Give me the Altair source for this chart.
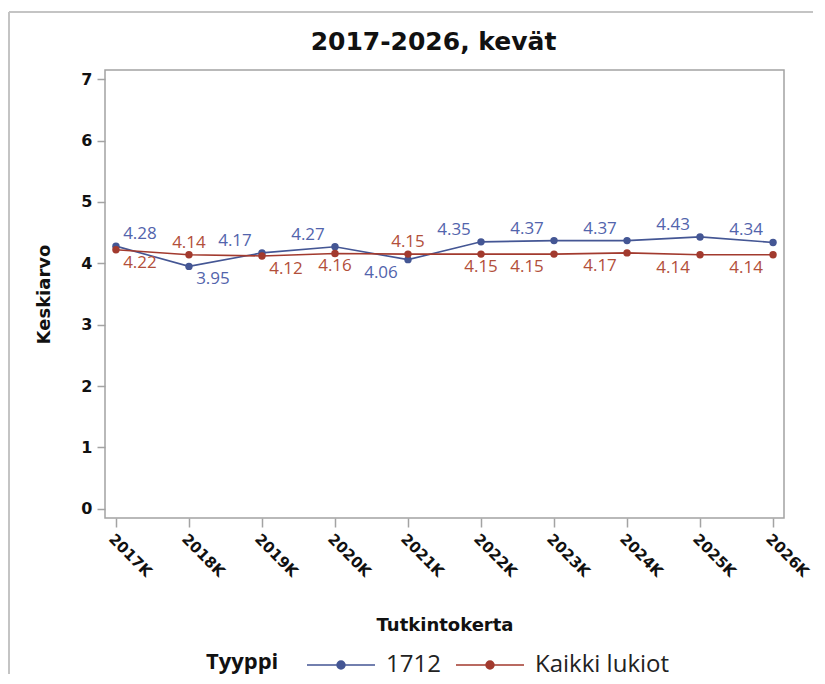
import altair as alt
import pandas as pd

# ---------------- data ----------------
years = ["2017K", "2018K", "2019K", "2020K", "2021K",
         "2022K", "2023K", "2024K", "2025K", "2026K"]
series_names = ["1712", "Kaikki lukiot"]
values_1712 = [4.28, 3.95, 4.17, 4.27, 4.06, 4.35, 4.37, 4.37, 4.43, 4.34]
values_kaikki = [4.22, 4.14, 4.12, 4.16, 4.15, 4.15, 4.15, 4.17, 4.14, 4.14]
y_ticks = [0, 1, 2, 3, 4, 5, 6, 7]

# label placement (style only): r = right of point, c = centred, l = left
side_1712 = ["r", "r", "l", "l", "l", "l", "l", "l", "l", "l"]
side_kaikki = ["r", "c", "r", "c", "c", "c", "l", "l", "l", "l"]

rows = []
for i, yr in enumerate(years):
    a, b = values_1712[i], values_kaikki[i]
    rows.append(dict(year=yr, series=series_names[0], value=a, side=side_1712[i],
                     vpos="above" if a >= b else "below"))
    rows.append(dict(year=yr, series=series_names[1], value=b, side=side_kaikki[i],
                     vpos="above" if b > a else "below"))
df = pd.DataFrame(rows)

# ---------------- style ----------------
BLUE, RED = "#445694", "#A23A2E"
LBLUE, LRED = "#5264AC", "#B24F3A"
GRAY = "#a3a3a3"
BOLD_FONT = "DejaVu Sans"
TEXT_FONT = "Open Sans"

color_scale = alt.Scale(domain=series_names, range=[BLUE, RED])

# legend symbol: a line with a dot (line reaches past the symbol box on both sides)
legend_path = "M-2,0H2"
for r in [0.235, 0.165, 0.095, 0.035]:
    legend_path += f"M{r},0A{r},{r},0,1,1,-{r},0A{r},{r},0,1,1,{r},0"

x_enc = alt.X("year:O", sort=years,
              scale=alt.Scale(type="point", padding=0.15),
              axis=alt.Axis(title="Tutkintokerta", labelAngle=45, labelAlign="left",
                            labelBaseline="top", labelFont=BOLD_FONT, labelFontWeight="bold",
                            labelFontSize=15, labelColor="#111", labelPadding=4,
                            tickSize=9, tickColor=GRAY, tickWidth=1.5, domain=False,
                            titleFont=BOLD_FONT, titleFontWeight="bold", titleFontSize=18,
                            titleColor="#111", titlePadding=37))
y_enc = alt.Y("value:Q",
              scale=alt.Scale(domain=[-0.15, 7.15], nice=False, zero=False),
              axis=alt.Axis(title="Keskiarvo", values=y_ticks, format="d", grid=False,
                            domain=False, tickSize=8, tickColor=GRAY, tickWidth=1.5,
                            labelFont=BOLD_FONT, labelFontWeight="bold", labelFontSize=16,
                            labelColor="#111", labelPadding=5,
                            titleFont=BOLD_FONT, titleFontWeight="bold", titleFontSize=18,
                            titleColor="#111", titlePadding=27))

base = alt.Chart(df)

lines = base.mark_line(strokeWidth=1.6).encode(
    x=x_enc, y=y_enc,
    color=alt.Color("series:N", scale=color_scale,
                    legend=alt.Legend(title="Tyyppi", orient="none", legendX=101, legendY=577,
                                      direction="horizontal", titleOrient="left",
                                      titleBaseline="middle",
                                      titleFont=TEXT_FONT, titleFontWeight="bold",
                                      titleFontSize=22, titleColor="#111", titlePadding=44,
                                      labelFont=TEXT_FONT, labelFontSize=24, labelColor="#222",
                                      symbolType=legend_path, symbolSize=1156,
                                      symbolStrokeWidth=1.5, labelOffset=27,
                                      columnPadding=12)),
    detail="series:N",
)
points = base.mark_circle(size=55, opacity=1).encode(
    x=x_enc, y=y_enc,
    color=alt.Color("series:N", scale=color_scale, legend=None),
)

label_color = alt.condition(alt.datum.series == series_names[0],
                            alt.value(LBLUE), alt.value(LRED))
text_layers = []
for side, dxv in [("r", 24), ("c", 0), ("l", -27)]:
    for vpos, dyv in [("above", -12), ("below", 13)]:
        text_layers.append(
            base.mark_text(dx=dxv, dy=dyv, font=TEXT_FONT, fontSize=17, baseline="middle")
            .encode(x=x_enc, y=y_enc, text=alt.Text("value:Q", format=".2f"), color=label_color)
            .transform_filter((alt.datum.side == side) & (alt.datum.vpos == vpos))
        )

frame_df = pd.DataFrame({"k": [0]})
frame_top = alt.Chart(frame_df).mark_rule(color="#c4c4c4", strokeWidth=2).encode(
    x=alt.value(-96), x2=alt.value(708), y=alt.value(-58))
frame_left = alt.Chart(frame_df).mark_rule(color="#c4c4c4", strokeWidth=2).encode(
    x=alt.value(-96), y=alt.value(-58), y2=alt.value(604))

chart = alt.layer(frame_top, frame_left, lines, points, *text_layers).properties(
    width=679, height=448,
    title=alt.TitleParams("2017-2026, kevät", font=BOLD_FONT, fontWeight="bold",
                          fontSize=25, color="#111", dx=-11, offset=-44),
    padding={"left": 0, "top": 3, "right": 0, "bottom": 0},
).configure_view(stroke=GRAY, strokeWidth=1.5).configure_legend(
    symbolFillColor="transparent"
)

chart.save("out.html", embed_options={"renderer": "svg", "actions": False})
